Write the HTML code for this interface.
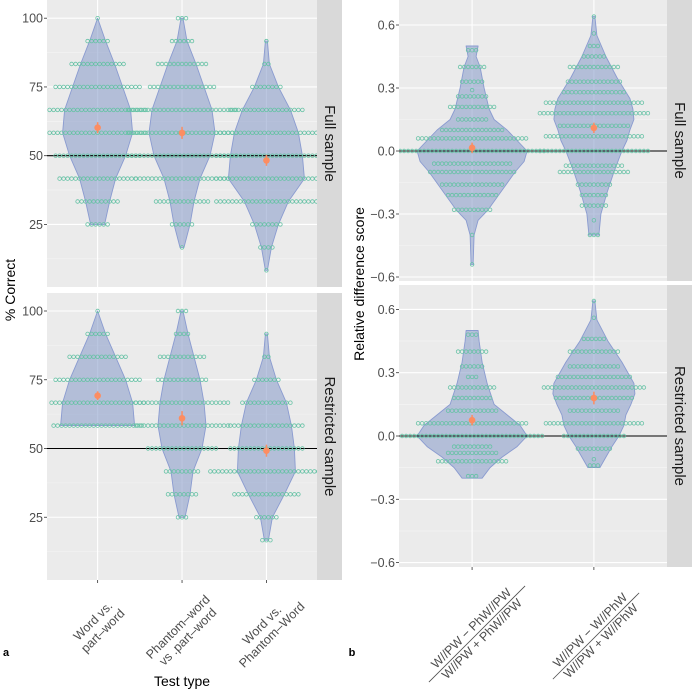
<!DOCTYPE html>
<html><head><meta charset="utf-8"><style>
body{margin:0;background:#fff}
svg{display:block;font-family:"Liberation Sans",sans-serif}
</style></head><body>
<svg id="chart" width="692" height="692" viewBox="0 0 692 692"></svg>
<script>
// ---- data: panel a (% correct) ----
const levelsA = [100,91.67,83.33,75,66.67,58.33,50,41.67,33.33,25,16.67,8.33];
const catsA = ["Word vs. part–word","Phantom–word vs .part–word","Word vs. Phantom–Word"];
const countsFullA1 = [1,6,14,22,25,25,22,20,11,6,0,0];
const countsFullA2 = [3,6,13,17,28,28,28,24,14,6,1,0];
const countsFullA3 = [0,1,2,8,19,26,26,26,26,8,4,1];
const countsRestA1 = [1,6,15,22,24,23,0,0,0,0,0,0];
const countsRestA2 = [3,4,12,13,24,24,18,9,8,3,0,0];
const countsRestA3 = [0,1,2,7,13,19,19,29,17,6,3,0];
const meansFullA = [60.2,58.3,48.3];
const seFullA = [2,2.2,2];
const meansRestA = [69.2,61,49.2];
const seRestA = [1.6,2.6,2.2];
const violinYA = [100,91.67,83.33,75,66.67,58.33,50,41.67,33.33,25,16.67,8.33];
const violinFullA1 = [0,8,17,25,33,35,28,18,12,7,null,null];
const violinFullA2 = [1,5,14,22,30,33,28,18,12,8,2,null];
const violinFullA3 = [null,1,3,12,24,32,36,38,22,12,5,1];
const violinRestA1 = [0,8,18,28,35,37,null,null,null,null,null,null];
const violinRestA2 = [1,6,12,18,22,24,20,11,8,3,null,null];
const violinRestA3 = [null,1,3,10,20,25,28,29,18,6,2,null];
const ticksA = [25,50,75,100];
// ---- data: panel b (relative difference) ----
const catsB = ["(W//PW − PhW//PW)/(W//PW + PhW//PW)","(W//PW − W//PhW)/(W//PW + W//PhW)"];
const levelsFullB1 = [0.48,0.4,0.33,0.29,0.26,0.21,0.15,0.1,0.06,0,-0.06,-0.1,-0.16,-0.21,-0.28,-0.4,-0.54];
const countsFullB1 = [3,7,6,1,8,12,8,16,28,37,20,22,16,13,10,1,1];
const levelsFullB2 = [0.64,0.56,0.5,0.45,0.4,0.33,0.28,0.23,0.18,0.12,0.07,0,-0.07,-0.1,-0.16,-0.21,-0.26,-0.33,-0.4];
const countsFullB2 = [1,1,3,6,13,14,16,25,28,18,25,28,15,18,9,7,7,1,3];
const levelsRestB1 = [0.48,0.4,0.33,0.28,0.23,0.18,0.12,0.06,0,-0.05,-0.08,-0.12,-0.19];
const countsRestB1 = [3,8,6,3,12,10,13,28,36,10,13,18,3];
const levelsRestB2 = [0.64,0.56,0.46,0.4,0.33,0.28,0.23,0.18,0.12,0.06,0,-0.06,-0.11,-0.14];
const countsRestB2 = [1,1,6,13,13,19,26,20,13,25,16,9,1,3];
const meansFullB = [0.015,0.11];
const seFullB = [0.025,0.025];
const meansRestB = [0.075,0.18];
const seRestB = [0.025,0.03];
const violinYFullB1 = [0.5,0.45,0.4,0.3,0.2,0.15,0.1,0.05,0,-0.05,-0.1,-0.2,-0.28,-0.33,-0.4,-0.54];
const violinWFullB1 = [6,4,8,12,17,22,35,45,55,52,43,28,16,6,2,1];
const violinYFullB2 = [0.64,0.55,0.45,0.35,0.25,0.2,0.15,0.1,0.05,0,-0.1,-0.2,-0.3,-0.4];
const violinWFullB2 = [1,3,12,23,36,39,40,36,33,28,20,13,7,5];
const violinYRestB1 = [0.5,0.45,0.35,0.25,0.15,0.1,0.05,0,-0.05,-0.1,-0.15,-0.2];
const violinWRestB1 = [6,7,10,15,22,35,48,55,45,30,18,10];
const violinYRestB2 = [0.64,0.55,0.45,0.35,0.25,0.2,0.15,0.1,0.05,0,-0.05,-0.1,-0.15];
const violinWRestB2 = [1,3,14,28,40,41,37,32,30,25,18,12,6];
const ticksB = [-0.6,-0.3,0,0.3,0.6];
const ticksBLabels = ["−0.6","−0.3","0.0","0.3","0.6"];

const NS="http://www.w3.org/2000/svg";
const svg=document.getElementById('chart');
function mk(tag,attrs,parent){const e=document.createElementNS(NS,tag);for(const k in attrs)e.setAttribute(k,attrs[k]);(parent||svg).appendChild(e);return e;}
const DOT=4, R=1.8;

function panel(p){
  const g=mk('g',{});
  
  
  const bg=mk('rect',{x:p.x0,y:p.y0,width:p.x1-p.x0,height:p.y1-p.y0,fill:'#ebebeb'},g);
  
  
  const cid='clip'+p.name;
  const cp=mk('clipPath',{id:cid},g);mk('rect',{x:p.x0,y:p.y0,width:p.x1-p.x0,height:p.y1-p.y0},cp);
  const inner=mk('g',{'clip-path':'url(#'+cid+')'},g);
  p.minor.forEach(v=>{const y=p.sy(v);const l=mk('line',{x1:p.x0,x2:p.x1,y1:y,y2:y,stroke:'#f5f5f5','stroke-width':0.6},inner);});
  p.major.forEach(v=>{const y=p.sy(v);const l=mk('line',{x1:p.x0,x2:p.x1,y1:y,y2:y,stroke:'#fff','stroke-width':1.1},inner);});
  p.cx.forEach(x=>{const l=mk('line',{x1:x,x2:x,y1:p.y0,y2:p.y1,stroke:'#fff','stroke-width':1.1},inner);});
  p.violins.forEach((vi,i)=>{
    const cx=p.cx[i];const pts=[];
    vi.y.forEach((yv,j)=>{const w=vi.w[j];if(w!=null)pts.push([p.sy(yv),w*p.wscale]);});
    let d='M'+(cx+pts[0][1])+','+pts[0][0];
    pts.forEach(q=>d+=' L'+(cx+q[1]).toFixed(1)+','+q[0].toFixed(1));
    for(let k=pts.length-1;k>=0;k--)d+=' L'+(cx-pts[k][1]).toFixed(1)+','+pts[k][0].toFixed(1);
    d+='Z';
    const v=mk('path',{d:d,fill:'rgba(141,160,203,0.6)',stroke:'#8a9bd0','stroke-width':0.9,'stroke-linejoin':'round'},inner);
    
    
  });
  const rl=mk('line',{x1:p.x0,x2:p.x1,y1:p.sy(p.ref),y2:p.sy(p.ref),stroke:'#000','stroke-width':1.1},inner);
  
  p.dots.forEach((dd,i)=>{
    const cx=p.cx[i];
    dd.levels.forEach((lv,j)=>{const n=dd.counts[j];const y=p.sy(lv);
      for(let k=0;k<n;k++){const x=cx+(k-(n-1)/2)*DOT;
        const c=mk('circle',{cx:x.toFixed(1),cy:y.toFixed(1),r:R,fill:'none',stroke:'#66c2a5','stroke-width':0.8},inner);
        
        
      }});
  });
  p.means.forEach((m,i)=>{
    const cx=p.cx[i];
    const e=mk('line',{x1:cx,x2:cx,y1:p.sy(m-p.se[i]),y2:p.sy(m+p.se[i]),stroke:'#fc8d62','stroke-width':1.5},inner);
    
    const c=mk('circle',{cx:cx,cy:p.sy(m),r:3.3,fill:'#fc8d62'},inner);
    
  });
  p.major.forEach((v,j)=>{const y=p.sy(v);
    mk('line',{x1:p.x0-3,x2:p.x0,y1:y,y2:y,stroke:'#333','stroke-width':0.8},g);
    const t=mk('text',{x:p.x0-4,y:y+4.5,'text-anchor':'end','font-size':12.5,fill:'#4d4d4d'},g);
    t.textContent=p.labels[j];
    
  });
  const s=mk('rect',{x:p.x1,y:p.y0,width:25,height:p.y1-p.y0,fill:'#d9d9d9'},g);
  
  const my=(p.y0+p.y1)/2, mx=p.x1+12.5;
  const st=mk('text',{x:mx,y:my,transform:'rotate(90 '+mx+' '+my+')','text-anchor':'middle','dominant-baseline':'central','font-size':15,fill:'#1a1a1a'},g);
  st.textContent=p.strip;
  
}

const cxA=catsA.map((c,i)=>47+(i+0.6)*84.4);
const minorA=[12.5,37.5,62.5,87.5];
const labA=ticksA.map(String);
function mkDots(lv,cs){return cs.map(c=>({levels:lv,counts:c}));}
panel({name:'panel-a-full',x0:47,x1:317,y0:0,y1:287,sy:v=>155.7-(v-50)*2.75,minor:minorA,major:ticksA,labels:labA,cx:cxA,ref:50,wscale:1,
  violins:[{y:violinYA,w:violinFullA1},{y:violinYA,w:violinFullA2},{y:violinYA,w:violinFullA3}],
  dots:mkDots(levelsA,[countsFullA1,countsFullA2,countsFullA3]),means:meansFullA,se:seFullA,strip:'Full sample'});
panel({name:'panel-a-restricted',x0:47,x1:317,y0:293,y1:580,sy:v=>448.5-(v-50)*2.75,minor:minorA,major:ticksA,labels:labA,cx:cxA,ref:50,wscale:1,
  violins:[{y:violinYA,w:violinRestA1},{y:violinYA,w:violinRestA2},{y:violinYA,w:violinRestA3}],
  dots:mkDots(levelsA,[countsRestA1,countsRestA2,countsRestA3]),means:meansRestA,se:seRestA,strip:'Restricted sample'});
const cxB=catsB.map((c,i)=>399+(i+0.6)*121.8);
const minorB=[-0.45,-0.15,0.15,0.45];
panel({name:'panel-b-full',x0:399,x1:667,y0:0,y1:281,sy:v=>151-v*210,minor:minorB,major:ticksB,labels:ticksBLabels,cx:cxB,ref:0,wscale:1,
  violins:[{y:violinYFullB1,w:violinWFullB1},{y:violinYFullB2,w:violinWFullB2}],
  dots:[{levels:levelsFullB1,counts:countsFullB1},{levels:levelsFullB2,counts:countsFullB2}],means:meansFullB,se:seFullB,strip:'Full sample'});
panel({name:'panel-b-restricted',x0:399,x1:667,y0:285,y1:567,sy:v=>436-v*211,minor:minorB,major:ticksB,labels:ticksBLabels,cx:cxB,ref:0,wscale:1,
  violins:[{y:violinYRestB1,w:violinWRestB1},{y:violinYRestB2,w:violinWRestB2}],
  dots:[{levels:levelsRestB1,counts:countsRestB1},{levels:levelsRestB2,counts:countsRestB2}],means:meansRestB,se:seRestB,strip:'Restricted sample'});

cxA.forEach(x=>mk('line',{x1:x,x2:x,y1:580,y2:583,stroke:'#333','stroke-width':0.8}));
cxB.forEach(x=>mk('line',{x1:x,x2:x,y1:567,y2:570,stroke:'#333','stroke-width':0.8}));
</script>
<svg width="692" height="692" style="position:absolute;left:0;top:0">
<g font-family="Liberation Sans, sans-serif" font-size="12.5" fill="#4d4d4d" text-anchor="middle">
 <g transform="translate(98,626) rotate(-45)">
  <text y="-3">Word vs.</text><text y="11">part–word</text></g>
 <g transform="translate(183,632) rotate(-45)">
  <text y="-3">Phantom–word</text><text y="11">vs .part–word</text></g>
 <g transform="translate(267,630) rotate(-45)">
  <text y="-3">Word vs.</text><text y="11">Phantom–Word</text></g>
 <g transform="translate(477,634) rotate(-45)">
  <text y="-4">W//PW − PhW//PW</text>
  <line x1="-68" x2="68" y1="0" y2="0" stroke="#4d4d4d" stroke-width="0.8"/>
  <text y="11">W//PW + PhW//PW</text></g>
 <g transform="translate(596,636) rotate(-45)">
  <text y="-4">W//PW − W//PhW</text>
  <line x1="-61" x2="61" y1="0" y2="0" stroke="#4d4d4d" stroke-width="0.8"/>
  <text y="11">W//PW + W//PhW</text></g>
</g>
<g font-family="Liberation Sans, sans-serif" font-size="14" fill="#000" text-anchor="middle">
 <text x="182" y="686">Test type</text>
 <text transform="translate(15,290) rotate(-90)">% Correct</text>
 <text transform="translate(364,284) rotate(-90)">Relative difference score</text>
 <text x="6" y="656" font-weight="bold" font-size="11">a</text>
 <text x="352" y="656" font-weight="bold" font-size="11">b</text>
</g>
</svg>
</body></html>
